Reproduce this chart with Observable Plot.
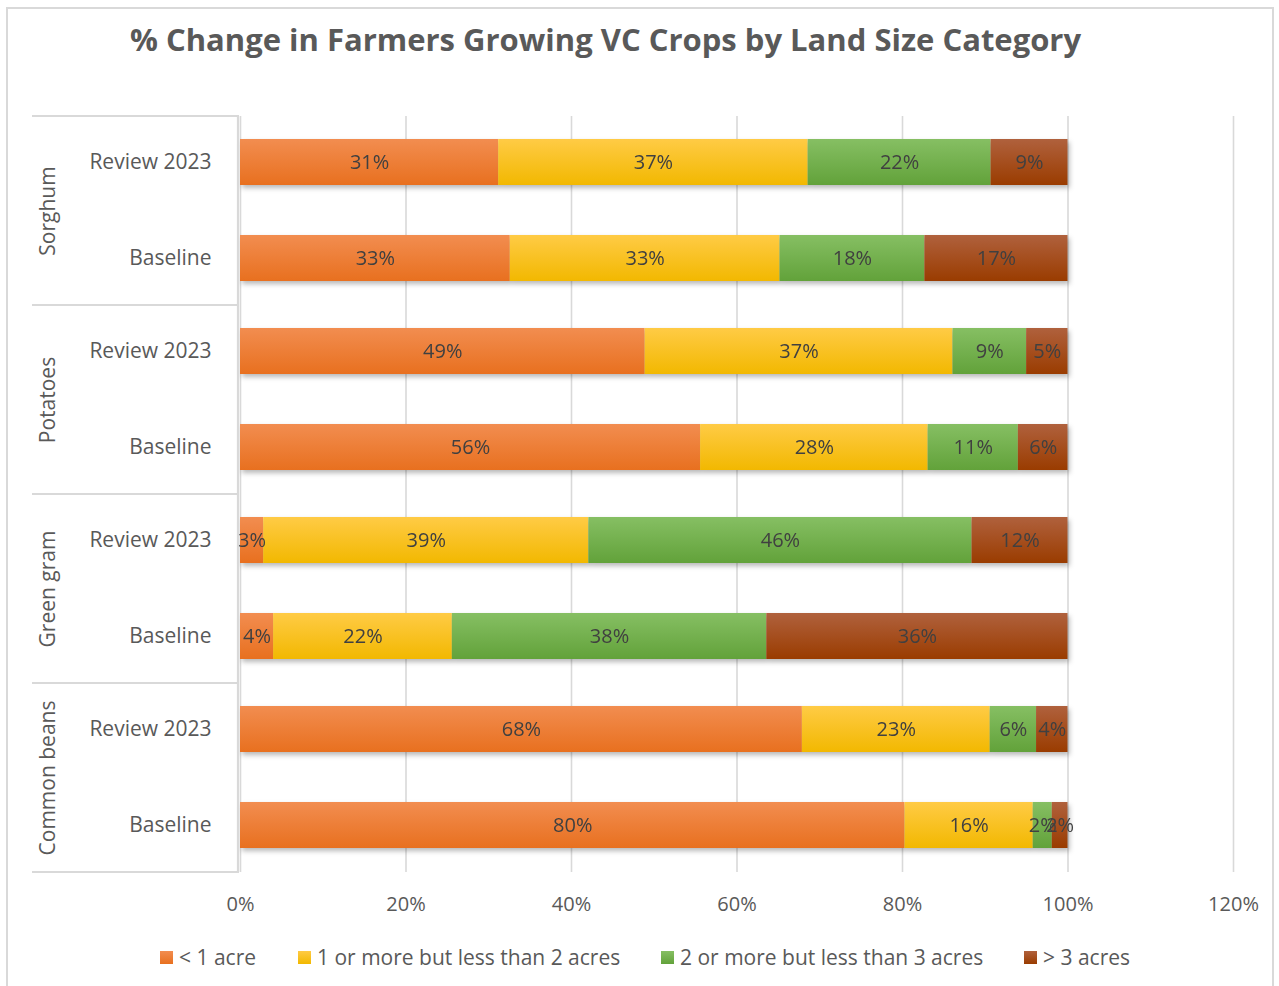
<!DOCTYPE html>
<html>
<head>
<meta charset="utf-8">
<script src="https://cdn.jsdelivr.net/npm/d3@7"></script>
<script src="https://cdn.jsdelivr.net/npm/@observablehq/plot@0.6"></script>
<style>
  html, body { margin: 0; padding: 0; background: #fff; }
  #wrap { position: relative; width: 1279px; height: 986px; overflow: hidden; font-family: "Open Sans", sans-serif; }
  #border { position: absolute; left: 6px; top: 7px; width: 1268px; height: 990px; border: 2px solid #d9d9d9; box-sizing: border-box; }
  #title { position: absolute; left: 130px; top: 18px; width: 948px; text-align: center; font-weight: 700; font-size: 31px; color: #595959; white-space: nowrap; }
  #chart { position: absolute; left: 0; top: 0; }
  #legend { position: absolute; top: 943px; left: 0; width: 1279px; height: 28px; color: #595959; font-size: 21px; }
  .item { position: absolute; top: 0; display: flex; align-items: center; white-space: nowrap; }
  .sw { width: 13px; height: 13px; margin-right: 6px; }
</style>
</head>
<body>
<div id="wrap">
  <div id="border"></div>
  <div id="chart"></div>
  <div id="title">% Change in Farmers Growing VC Crops by Land Size Category</div>
  <div id="legend"></div>
</div>
<script>
// ---- data ----
const crops = ["Sorghum", "Potatoes", "Green gram", "Common beans"];
const periods = ["Review 2023", "Baseline"];
const categories = ["< 1 acre", "1 or more but less than 2 acres", "2 or more but less than 3 acres", "> 3 acres"];
// values per crop/period, in category order (percent)
const sorghumReview = [31.2, 37.4, 22.1, 9.3];
const sorghumBaseline = [32.6, 32.6, 17.5, 17.3];
const potatoesReview = [48.9, 37.2, 8.9, 5.0];
const potatoesBaseline = [55.6, 27.5, 10.9, 6.0];
const greengramReview = [2.8, 39.3, 46.3, 11.6];
const greengramBaseline = [4.0, 21.6, 38.0, 36.4];
const beansReview = [67.9, 22.7, 5.6, 3.8];
const beansBaseline = [80.3, 15.5, 2.3, 1.9];
const xTicks = [0, 20, 40, 60, 80, 100, 120];
const labels = ["31%","37%","22%","9%","33%","33%","18%","17%","49%","37%","9%","5%","56%","28%","11%","6%","3%","39%","46%","12%","4%","22%","38%","36%","68%","23%","6%","4%","80%","16%","2%","2%"];

const colors = ["#ED7D31", "#FFC000", "#70AD47", "#9E480E"];
const gradTop = ["#F28D50", "#FFCB45", "#86BF63", "#B0613D"];
const gradBot = ["#E8701F", "#F2B800", "#62A23A", "#9A3C00"];

const series = [
  ["Sorghum", "Review 2023", sorghumReview],
  ["Sorghum", "Baseline", sorghumBaseline],
  ["Potatoes", "Review 2023", potatoesReview],
  ["Potatoes", "Baseline", potatoesBaseline],
  ["Green gram", "Review 2023", greengramReview],
  ["Green gram", "Baseline", greengramBaseline],
  ["Common beans", "Review 2023", beansReview],
  ["Common beans", "Baseline", beansBaseline]
];
const data = [];
let li = 0;
for (const [crop, period, vals] of series) {
  vals.forEach((v, i) => data.push({crop, period, cat: categories[i], value: v, label: labels[li++]}));
}

const H = 930;
const plot = Plot.plot({
  width: 1279,
  height: H,
  marginLeft: 240,
  marginRight: 46,
  marginTop: 115,
  marginBottom: H - 873,
  style: {fontFamily: "Open Sans, sans-serif", fontSize: "20px", color: "#595959", background: "transparent", overflow: "visible"},
  x: {domain: [0, 120], ticks: xTicks, tickFormat: d => d + "%", tickSize: 0, tickPadding: 24, label: null},
  y: {domain: periods, paddingInner: 0.516, paddingOuter: 0.24, tickSize: 0, tickPadding: 29, label: null},
  fy: {domain: crops, paddingInner: 0, paddingOuter: 0, axis: null, label: null},
  color: {domain: categories, range: categories.map((c, i) => `url(#grad${i})`)},
  marks: [
    Plot.ruleX(xTicks, {stroke: "#d9d9d9", strokeWidth: 1.6}),
    Plot.barX(data, Plot.stackX({x: "value", y: "period", fy: "crop", fill: "cat", order: categories})),
    Plot.text(data, Plot.stackX({x: "value", y: "period", fy: "crop", z: "cat", order: categories, text: "label", fill: "#404040", fontSize: 20})),
    Plot.text(crops, {fy: d => d, text: d => d, frameAnchor: "left", textAnchor: "middle", lineAnchor: "middle", dx: -192, rotate: -90, fill: "#595959", fontSize: 21})
  ]
});

const svg = d3.select(plot);
svg.selectAll("g[aria-label='y-axis tick label'] text, g[aria-label='y-axis tick label']").style("font-size", "21px");
const defs = svg.insert("defs", ":first-child");
colors.forEach((c, i) => {
  const g = defs.append("linearGradient").attr("id", `grad${i}`).attr("x1", 0).attr("y1", 0).attr("x2", 0).attr("y2", 1);
  g.append("stop").attr("offset", "0%").attr("stop-color", gradTop[i]);
  g.append("stop").attr("offset", "100%").attr("stop-color", gradBot[i]);
});
svg.selectAll("g[aria-label=bar]").style("filter", "drop-shadow(2px 3px 2.5px rgba(0,0,0,0.28))");

// category separators on the left, placed from the fy scale
const fy = plot.scale("fy");
const sep = svg.append("g").attr("stroke", "#d9d9d9").attr("stroke-width", 2.2);
const bounds = crops.map(c => fy.apply(c));
const step = fy.step;
const ys = bounds.concat([bounds[bounds.length - 1] + step]);
ys.forEach(y => sep.append("line").attr("x1", 32).attr("x2", 239).attr("y1", y).attr("y2", y));
sep.append("line").attr("x1", 238).attr("x2", 238).attr("y1", ys[0]).attr("y2", ys[ys.length - 1]);

document.getElementById("chart").appendChild(plot);

// legend
const legendX = [160, 298, 661, 1024];
const legend = document.getElementById("legend");
categories.forEach((c, i) => {
  const it = document.createElement("div");
  it.className = "item";
  it.style.left = legendX[i] + "px";
  it.innerHTML = `<span class="sw" style="background:linear-gradient(${gradTop[i]},${gradBot[i]})"></span><span>${c.replace("<", "&lt;").replace(">", "&gt;")}</span>`;
  legend.appendChild(it);
});
</script>
</body>
</html>
